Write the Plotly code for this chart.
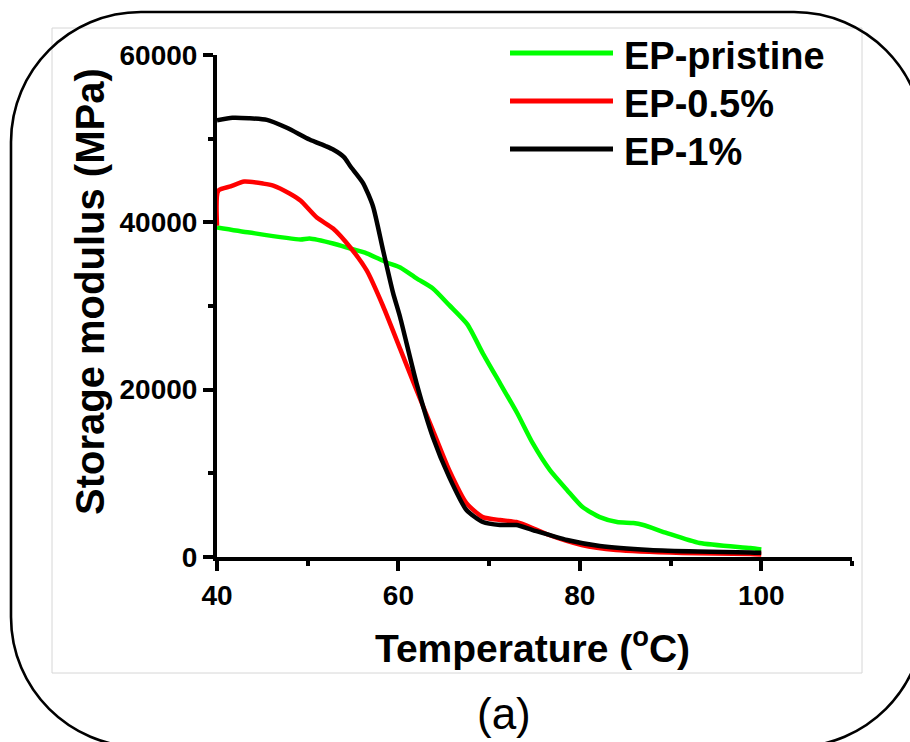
import plotly.graph_objects as go

# ---- data: storage modulus (MPa) versus temperature (°C) ----
series_names = ["EP-pristine", "EP-0.5%", "EP-1%"]
series_colors = ["#00ff00", "#ff0000", "#000000"]

temp_pristine = [40, 43.6, 49.2, 50.2, 52.8, 54.7, 56.5, 58.7, 60.2, 62.0, 63.8, 65.6,
                 67.6, 69.3, 71.2, 73.1, 74.8, 76.7, 78.6, 80.3, 82.2, 84.1, 85.9, 87.0,
                 89.6, 93.2, 98.8, 100]
mod_pristine = [39400, 38780, 37950, 38070, 37470, 36870, 36300, 35200, 34610, 33300, 32100, 30100,
                27800, 24340, 20760, 17180, 13600, 10380, 7990, 5970, 4770, 4180, 4060, 3820,
                2860, 1670, 1070, 900]

temp_05 = [40, 40.15, 41.5, 43.0, 45.1, 46.2, 48.0, 49.2, 51.0, 52.8, 54.7, 56.5, 58.3,
           60.2, 62.0, 63.8, 65.6, 67.5, 69.3, 71.2, 73.0, 74.8, 76.6, 80.2, 84.0, 91.3,
           98.8, 100]
mod_05 = [39600, 43800, 44300, 44870, 44630, 44390, 43440, 42600, 40570, 39260, 36990, 34250, 30000,
          24850, 19930, 15150, 10380, 6440, 4770, 4420, 4180, 3460, 2630, 1430, 835, 480,
          360, 300]

temp_1 = [40, 41.7, 43.5, 45.5, 47.7, 50.2, 52.0, 52.8, 54.0, 54.7, 56.1, 57.2, 58.3, 59.4,
          60.2, 62.0, 63.8, 65.6, 67.5, 69.3, 71.2, 73.0, 74.8, 78.6, 82.2, 87.7, 93.0,
          98.8, 100]
mod_1 = [52200, 52500, 52450, 52250, 51300, 49900, 49100, 48700, 47800, 46700, 44700, 41900, 36700, 31600,
         28600, 20760, 14320, 9550, 5610, 4180, 3820, 3820, 3220, 2030, 1310, 835, 650,
         550, 500]

x_ticks = [40, 60, 80, 100]
y_ticks = [0, 20000, 40000, 60000]

# ---- page geometry (pixels) ----
W, H = 910, 742
ML, MR, MT, MB = 217, 58, 55, 185


def px2x(px):
    return (px - ML) / (W - ML - MR)


def py2y(py):
    return (H - MB - py) / (H - MT - MB)


FONT = "Liberation Sans, Arial, sans-serif"

fig = go.Figure()
all_x = [temp_pristine, temp_05, temp_1]
all_y = [mod_pristine, mod_05, mod_1]
for name, color, xs, ys in zip(series_names, series_colors, all_x, all_y):
    fig.add_trace(go.Scatter(x=xs, y=ys, mode="lines", name=name,
                             line=dict(color=color, width=4.5, shape="spline", smoothing=0.6),
                             showlegend=False))

shapes = []
annotations = []

# light frame around the figure
shapes.append(dict(type="rect", xref="paper", yref="paper",
                   x0=px2x(52), x1=px2x(862), y0=py2y(673), y1=py2y(28),
                   line=dict(color="#d6d6d6", width=1), layer="below"))

# rounded outer border
x0, x1, y0, y1, r = 11, 924, 12, 747, 130
k = 0.5523 * r


def P(px, py):
    return f"{px2x(px):.5f},{py2y(py):.5f}"


path = (f"M {P(x0 + r, y0)} L {P(x1 - r, y0)} "
        f"C {P(x1 - r + k, y0)} {P(x1, y0 + r - k)} {P(x1, y0 + r)} "
        f"L {P(x1, y1 - r)} "
        f"C {P(x1, y1 - r + k)} {P(x1 - r + k, y1)} {P(x1 - r, y1)} "
        f"L {P(x0 + r, y1)} "
        f"C {P(x0 + r - k, y1)} {P(x0, y1 - r + k)} {P(x0, y1 - r)} "
        f"L {P(x0, y0 + r)} "
        f"C {P(x0, y0 + r - k)} {P(x0 + r - k, y0)} {P(x0 + r, y0)} Z")
shapes.append(dict(type="path", xref="paper", yref="paper", path=path,
                   line=dict(color="black", width=2.6)))

# legend
legend_rows = [53, 101, 149]
for name, color, ry in zip(series_names, series_colors, legend_rows):
    shapes.append(dict(type="line", xref="paper", yref="paper",
                       x0=px2x(510), x1=px2x(613), y0=py2y(ry), y1=py2y(ry),
                       line=dict(color=color, width=5)))
    annotations.append(dict(xref="paper", yref="paper", x=px2x(622), y=py2y(ry + 3),
                            xanchor="left", yanchor="middle", showarrow=False,
                            text=name, font=dict(family=FONT, size=38, color="black", weight="bold")))

# axis titles
annotations.append(dict(xref="paper", yref="paper", x=px2x(532), y=py2y(645),
                        xanchor="center", yanchor="middle", showarrow=False,
                        text="Temperature (<sup>o</sup>C)",
                        font=dict(family=FONT, size=39, color="black", weight="bold")))
annotations.append(dict(xref="paper", yref="paper", x=px2x(90), y=py2y(292),
                        xanchor="center", yanchor="middle", showarrow=False, textangle=-90,
                        text="Storage modulus (MPa)",
                        font=dict(family=FONT, size=40, color="black", weight="bold")))
# panel label
annotations.append(dict(xref="paper", yref="paper", x=px2x(504), y=py2y(713),
                        xanchor="center", yanchor="middle", showarrow=False,
                        text="(a)", font=dict(family=FONT, size=44, color="black")))

axis_common = dict(showline=True, linewidth=4, linecolor="black", showgrid=False, zeroline=False,
                   ticks="outside", ticklen=10, tickwidth=4, tickcolor="black",
                   tickfont=dict(family=FONT, size=28, color="black", weight="bold"))

fig.update_layout(
    width=W, height=H,
    margin=dict(l=ML, r=MR, t=MT, b=MB),
    paper_bgcolor="white", plot_bgcolor="white",
    shapes=shapes, annotations=annotations,
    xaxis=dict(range=[40, 110], tickvals=x_ticks, tickformat="d",
               minor=dict(ticks="outside", ticklen=5, tickwidth=4, tickcolor="black", dtick=10, tick0=40),
               **axis_common),
    yaxis=dict(range=[0, 60000], tickvals=y_ticks, tickformat="d",
               minor=dict(ticks="outside", ticklen=5, tickwidth=4, tickcolor="black", dtick=10000, tick0=0),
               **axis_common),
)

fig.write_html("out.html")
